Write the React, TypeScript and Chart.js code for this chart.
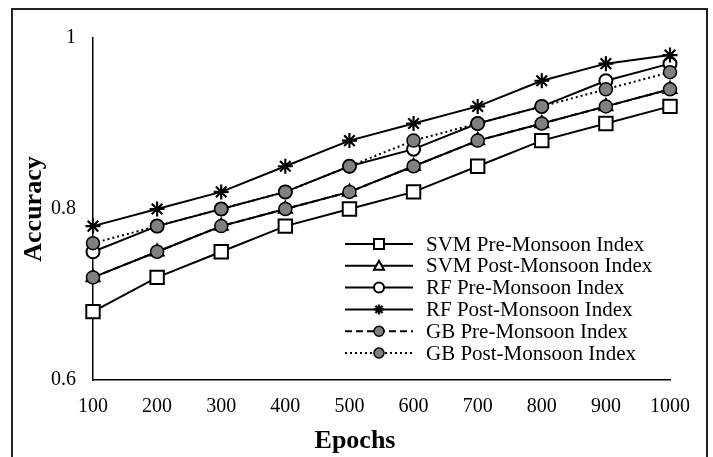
import React, { useEffect, useRef } from 'react';
import { Chart, registerables } from 'chart.js';

Chart.register(...registerables);

const epochs = ['100', '200', '300', '400', '500', '600', '700', '800', '900', '1000'];
const svmPre = [0.68, 0.72, 0.75, 0.78, 0.8, 0.82, 0.85, 0.88, 0.9, 0.92];
const svmPost = [0.72, 0.75, 0.78, 0.8, 0.82, 0.85, 0.88, 0.9, 0.92, 0.94];
const rfPre = [0.75, 0.78, 0.8, 0.82, 0.85, 0.87, 0.9, 0.92, 0.95, 0.97];
const rfPost = [0.78, 0.8, 0.82, 0.85, 0.88, 0.9, 0.92, 0.95, 0.97, 0.98];
const gbPre = [0.72, 0.75, 0.78, 0.8, 0.82, 0.85, 0.88, 0.9, 0.92, 0.94];
const gbPost = [0.76, 0.78, 0.8, 0.82, 0.85, 0.88, 0.9, 0.92, 0.94, 0.96];
const seriesNames = [
  'SVM Pre-Monsoon Index',
  'SVM Post-Monsoon Index',
  'RF Pre-Monsoon Index',
  'RF Post-Monsoon Index',
  'GB Pre-Monsoon Index',
  'GB Post-Monsoon Index',
];
const yTicks = [0.6, 0.8, 1];
const yTickLabels = ['0.6', '0.8', '1'];
const xTitle = 'Epochs';
const yTitle = 'Accuracy';

const SERIF = "'Liberation Serif', 'Times New Roman', serif";
const GRAY = '#808080';

type Marker = 'rect' | 'triangle' | 'circle' | 'star';

function drawMarker(ctx: CanvasRenderingContext2D, kind: Marker, x: number, y: number, r: number, fill: string, bw: number) {
  ctx.save();
  ctx.lineWidth = bw;
  ctx.strokeStyle = '#000';
  ctx.fillStyle = fill;
  ctx.setLineDash([]);
  ctx.beginPath();
  if (kind === 'rect') {
    ctx.rect(x - r, y - r, 2 * r, 2 * r);
    ctx.fill();
    ctx.stroke();
  } else if (kind === 'triangle') {
    ctx.moveTo(x, y - r);
    ctx.lineTo(x + r, y + r * 0.8);
    ctx.lineTo(x - r, y + r * 0.8);
    ctx.closePath();
    ctx.fill();
    ctx.stroke();
  } else if (kind === 'circle') {
    ctx.arc(x, y, r, 0, Math.PI * 2);
    ctx.fill();
    ctx.stroke();
  } else {
    for (let i = 0; i < 4; i++) {
      const a = (i * Math.PI) / 4;
      ctx.moveTo(x - Math.cos(a) * r, y - Math.sin(a) * r);
      ctx.lineTo(x + Math.cos(a) * r, y + Math.sin(a) * r);
    }
    ctx.stroke();
  }
  ctx.restore();
}

const legendStyles: { marker: Marker; fill: string; dash: number[]; bw: number }[] = [
  { marker: 'rect', fill: '#fff', dash: [], bw: 2 },
  { marker: 'triangle', fill: '#fff', dash: [], bw: 2 },
  { marker: 'circle', fill: '#fff', dash: [], bw: 2 },
  { marker: 'star', fill: '#000', dash: [], bw: 2.2 },
  { marker: 'circle', fill: GRAY, dash: [7, 4], bw: 1.5 },
  { marker: 'circle', fill: GRAY, dash: [2, 3], bw: 1.5 },
];

const decorPlugin = {
  id: 'decor',
  afterDraw(chart: any) {
    const ctx: CanvasRenderingContext2D = chart.ctx;
    const area = chart.chartArea;
    ctx.save();
    // outer frame
    ctx.strokeStyle = '#222';
    ctx.lineWidth = 2;
    ctx.strokeRect(12, 9, 695, 470);

    // axis titles
    ctx.fillStyle = '#000';
    ctx.font = `bold 26px ${SERIF}`;
    ctx.textAlign = 'center';
    ctx.textBaseline = 'alphabetic';
    ctx.fillText(xTitle, 355, 448);
    ctx.save();
    ctx.translate(41, (area.top + area.bottom) / 2);
    ctx.rotate(-Math.PI / 2);
    ctx.fillText(yTitle, 0, 0);
    ctx.restore();

    // legend
    const lx0 = 345;
    const lx1 = 413;
    const mx = 379;
    const tx = 426;
    const y0 = 244;
    const dy = 21.8;
    ctx.font = `21px ${SERIF}`;
    ctx.textAlign = 'left';
    ctx.textBaseline = 'middle';
    seriesNames.forEach((name, i) => {
      const st = legendStyles[i];
      const y = y0 + i * dy;
      ctx.save();
      ctx.strokeStyle = '#000';
      ctx.lineWidth = 2;
      ctx.setLineDash(st.dash);
      ctx.beginPath();
      ctx.moveTo(lx0, y);
      ctx.lineTo(lx1, y);
      ctx.stroke();
      ctx.restore();
      drawMarker(ctx, st.marker, mx, y, 5, st.fill, st.bw);
      ctx.fillStyle = '#000';
      ctx.fillText(name, tx, y + 1);
    });
    ctx.restore();
  },
};

export default function App() {
  const ref = useRef<HTMLCanvasElement | null>(null);

  useEffect(() => {
    document.body.style.margin = '0';
    const canvas = ref.current;
    if (!canvas) return;
    const base = {
      borderColor: '#000',
      borderWidth: 2,
      pointBorderColor: '#000',
      fill: false,
      tension: 0,
    };
    const chart = new Chart(canvas, {
      type: 'line',
      data: {
        labels: epochs,
        datasets: [
          {
            ...base,
            label: seriesNames[0],
            data: svmPre,
            pointStyle: 'rect',
            pointRadius: 9.5,
            pointBackgroundColor: '#fff',
            pointBorderWidth: 2,
            order: 3,
          },
          {
            ...base,
            label: seriesNames[1],
            data: svmPost,
            pointStyle: 'triangle',
            pointRadius: 7.5,
            pointBackgroundColor: '#fff',
            pointBorderWidth: 2,
            order: 5,
          },
          {
            ...base,
            label: seriesNames[2],
            data: rfPre,
            pointStyle: 'circle',
            pointRadius: 6.5,
            pointBackgroundColor: '#fff',
            pointBorderWidth: 2,
            order: 4,
          },
          {
            ...base,
            label: seriesNames[3],
            data: rfPost,
            pointStyle: 'star',
            pointRadius: 7.5,
            pointBackgroundColor: '#000',
            pointBorderWidth: 2.2,
            order: 1,
          },
          {
            ...base,
            label: seriesNames[4],
            data: gbPre,
            borderDash: [7, 4],
            pointStyle: 'circle',
            pointRadius: 6.5,
            pointBackgroundColor: GRAY,
            pointBorderWidth: 1.5,
            order: 2,
          },
          {
            ...base,
            label: seriesNames[5],
            data: gbPost,
            borderDash: [2, 3],
            pointStyle: 'circle',
            pointRadius: 6.5,
            pointBackgroundColor: GRAY,
            pointBorderWidth: 1.5,
            order: 0,
          },
        ],
      },
      options: {
        responsive: false,
        animation: false,
        devicePixelRatio: 1,
        layout: { padding: { top: 38, right: 43, left: 0, bottom: 0 } },
        plugins: {
          legend: { display: false },
          tooltip: { enabled: false },
          title: { display: false },
        },
        scales: {
          x: {
            type: 'category',
            offset: false,
            grid: { display: false, drawTicks: false },
            border: { display: true, color: '#000', width: 1.5 },
            ticks: {
              color: '#000',
              font: { family: SERIF, size: 20 },
              padding: 15,
              maxRotation: 0,
              autoSkip: false,
            },
            afterFit: (s: any) => {
              s.height = 77;
            },
          },
          y: {
            type: 'linear',
            min: 0.6,
            max: 1,
            grid: { display: false, drawTicks: false },
            border: { display: true, color: '#000', width: 1.5 },
            ticks: {
              color: '#000',
              font: { family: SERIF, size: 20 },
              padding: 17,
              callback: (v: any) => {
                const i = yTicks.findIndex((t) => Math.abs(t - Number(v)) < 1e-9);
                return i >= 0 ? yTickLabels[i] : '';
              },
            },
            afterBuildTicks: (s: any) => {
              s.ticks = yTicks.map((v) => ({ value: v }));
            },
            afterFit: (s: any) => {
              s.width = 93;
            },
          },
        },
      },
      plugins: [decorPlugin],
    } as any);
    return () => chart.destroy();
  }, []);

  return (
    <div style={{ position: 'absolute', left: 0, top: 0, width: 713, height: 457, background: '#fff' }}>
      <canvas ref={ref} width={713} height={457} style={{ display: 'block' }} />
    </div>
  );
}
